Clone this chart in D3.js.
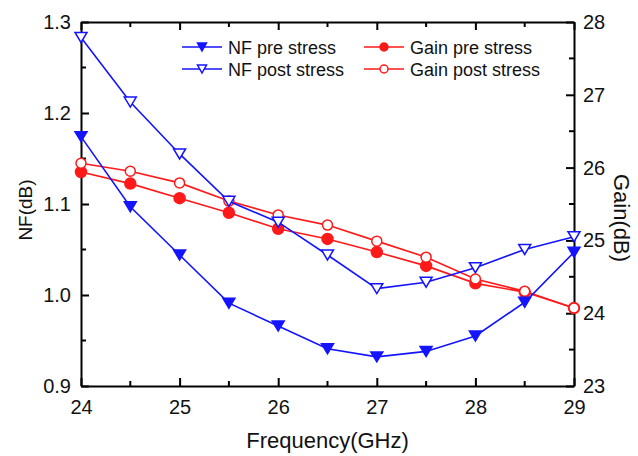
<!DOCTYPE html>
<html>
<head>
<meta charset="utf-8">
<script src="https://cdn.jsdelivr.net/npm/d3@7"></script>
<style>
    body { margin: 0; background: #fff; }
    text { font-family: "Liberation Sans", Arial, sans-serif; fill: #111; }
    .axis path, .axis line { stroke: #000; stroke-width: 2; }
</style>
</head>
<body>
<div id="chart"></div>
<script>
// Data
const freq = [24, 24.5, 25, 25.5, 26, 26.5, 27, 27.5, 28, 28.5, 29];
const nfPre = [1.174, 1.097, 1.044, 0.991, 0.966, 0.941, 0.932, 0.938, 0.955, 0.992, 1.047];
const nfPost = [1.283, 1.212, 1.155, 1.103, 1.080, 1.044, 1.007, 1.014, 1.030, 1.050, 1.064];
const gainPre = [25.94, 25.78, 25.58, 25.38, 25.16, 25.02, 24.84, 24.65, 24.41, 24.29, 24.07];
const gainPost = [26.06, 25.95, 25.79, 25.54, 25.35, 25.21, 24.99, 24.77, 24.47, 24.30, 24.07];
const xTicks = [24, 25, 26, 27, 28, 29];
const nfTicks = [0.9, 1.0, 1.1, 1.2, 1.3];
const gainTicks = [23, 24, 25, 26, 27, 28];

const width_raw = 638, height_raw = 456;
const margin = {top: 22, right: 64, bottom: 70, left: 81};
const width = width_raw - margin.left - margin.right,
    height = height_raw - margin.top - margin.bottom;

const blue = "#1414ff", red = "#ff1a1a";

let svg = d3.select("#chart")
    .append("svg")
    .attr("width", width_raw)
    .attr("height", height_raw)
    .append("g")
    .attr("transform", `translate(${margin.left}, ${margin.top})`);

// Scales
let x = d3.scaleLinear().domain([24, 29]).range([0, width]);
let yNF = d3.scaleLinear().domain([0.9, 1.3]).range([height, 0]);
let yGain = d3.scaleLinear().domain([23, 28]).range([height, 0]);

// Minor ticks (inward, shorter)
const minorX = d3.range(24.5, 29, 1);
const minorNF = [0.95, 1.05, 1.15, 1.25];
const minorGain = [23.5, 24.5, 25.5, 26.5, 27.5];

function styleAxis(g) {
    g.selectAll("text").style("font-size", "20px").attr("fill", "#111");
}

// Bottom axis
let xGroup = svg.append("g").attr("class", "axis")
    .attr("transform", `translate(0,${height})`)
    .call(d3.axisBottom(x).tickValues(xTicks).tickFormat(d3.format("d"))
        .tickSizeInner(-8).tickSizeOuter(0).tickPadding(14));
styleAxis(xGroup);
xGroup.selectAll(".minor").data(minorX).enter().append("line")
    .attr("x1", d => x(d)).attr("x2", d => x(d)).attr("y1", 0).attr("y2", -5);

// Top axis (no labels)
let xTop = svg.append("g").attr("class", "axis")
    .call(d3.axisTop(x).tickValues(xTicks).tickFormat("").tickSizeInner(-8).tickSizeOuter(0));
xTop.selectAll(".minor").data(minorX).enter().append("line")
    .attr("x1", d => x(d)).attr("x2", d => x(d)).attr("y1", 0).attr("y2", 5);

// Left axis
let yLeft = svg.append("g").attr("class", "axis")
    .call(d3.axisLeft(yNF).tickValues(nfTicks).tickFormat(d3.format(".1f"))
        .tickSizeInner(-8).tickSizeOuter(0).tickPadding(10));
styleAxis(yLeft);
yLeft.selectAll(".minor").data(minorNF).enter().append("line")
    .attr("y1", d => yNF(d)).attr("y2", d => yNF(d)).attr("x1", 0).attr("x2", 5);

// Right axis
let yRight = svg.append("g").attr("class", "axis")
    .attr("transform", `translate(${width},0)`)
    .call(d3.axisRight(yGain).tickValues(gainTicks).tickFormat(d3.format("d"))
        .tickSizeInner(-8).tickSizeOuter(0).tickPadding(9));
styleAxis(yRight);
yRight.selectAll(".minor").data(minorGain).enter().append("line")
    .attr("y1", d => yGain(d)).attr("y2", d => yGain(d)).attr("x1", 0).attr("x2", -5);

// Axis titles
svg.append("text")
    .attr("x", width / 2).attr("y", height + 62)
    .attr("text-anchor", "middle")
    .style("font-size", "22px")
    .text("Frequency(GHz)");

svg.append("text")
    .attr("transform", `translate(-49,${height / 2 + 6}) rotate(-90)`)
    .attr("text-anchor", "middle")
    .style("font-size", "19px")
    .text("NF(dB)");

svg.append("text")
    .attr("transform", `translate(${width + 40},${height / 2 + 14}) rotate(90)`)
    .attr("text-anchor", "middle")
    .style("font-size", "22px")
    .text("Gain(dB)");

// Series definitions
const series = [
    {name: "NF pre stress", values: nfPre, y: yNF, color: blue, marker: "tri", filled: true},
    {name: "NF post stress", values: nfPost, y: yNF, color: blue, marker: "tri", filled: false},
    {name: "Gain pre stress", values: gainPre, y: yGain, color: red, marker: "circle", filled: true},
    {name: "Gain post stress", values: gainPost, y: yGain, color: red, marker: "circle", filled: false}
];

const triPath = "M-6,-5L6,-5L0,5Z";

function drawMarker(g, s) {
    if (s.marker === "tri") {
        g.append("path").attr("d", triPath)
            .attr("fill", s.filled ? s.color : "#fff")
            .attr("stroke", s.color).attr("stroke-width", 1.5);
    } else {
        g.append("circle").attr("r", s.filled ? 5.5 : 5)
            .attr("fill", s.filled ? s.color : "#fff")
            .attr("stroke", s.color).attr("stroke-width", 1.5);
    }
}

// Lines then markers, gain first so NF sits on top
const order = [2, 3, 0, 1];
order.forEach(i => {
    const s = series[i];
    const pts = freq.map((f, j) => [f, s.values[j]]);
    svg.append("path")
        .datum(pts)
        .attr("fill", "none")
        .attr("stroke", s.color)
        .attr("stroke-width", 1.6)
        .attr("d", d3.line().x(d => x(d[0])).y(d => s.y(d[1])));
    pts.forEach(p => {
        const g = svg.append("g").attr("transform", `translate(${x(p[0])},${s.y(p[1])})`);
        drawMarker(g, s);
    });
});

// Legend
const legendPos = [
    {x: 101, y: 25}, {x: 101, y: 47}, {x: 283, y: 25}, {x: 283, y: 47}
];
series.forEach((s, i) => {
    const lg = svg.append("g").attr("transform", `translate(${legendPos[i].x},${legendPos[i].y})`);
    lg.append("line").attr("x1", 0).attr("x2", 40).attr("y1", 0).attr("y2", 0)
        .attr("stroke", s.color).attr("stroke-width", 1.6);
    const m = lg.append("g").attr("transform", "translate(20,0)");
    if (s.marker === "tri") {
        m.append("path").attr("d", "M-4.5,-4L4.5,-4L0,4Z")
            .attr("fill", s.filled ? s.color : "#fff")
            .attr("stroke", s.color).attr("stroke-width", 1.5);
    } else {
        m.append("circle").attr("r", 4)
            .attr("fill", s.filled ? s.color : "#fff")
            .attr("stroke", s.color).attr("stroke-width", 1.5);
    }
    lg.append("text").attr("x", 46).attr("y", 6.5)
        .style("font-size", "18px")
        .text(s.name);
});
</script>
</body>
</html>
